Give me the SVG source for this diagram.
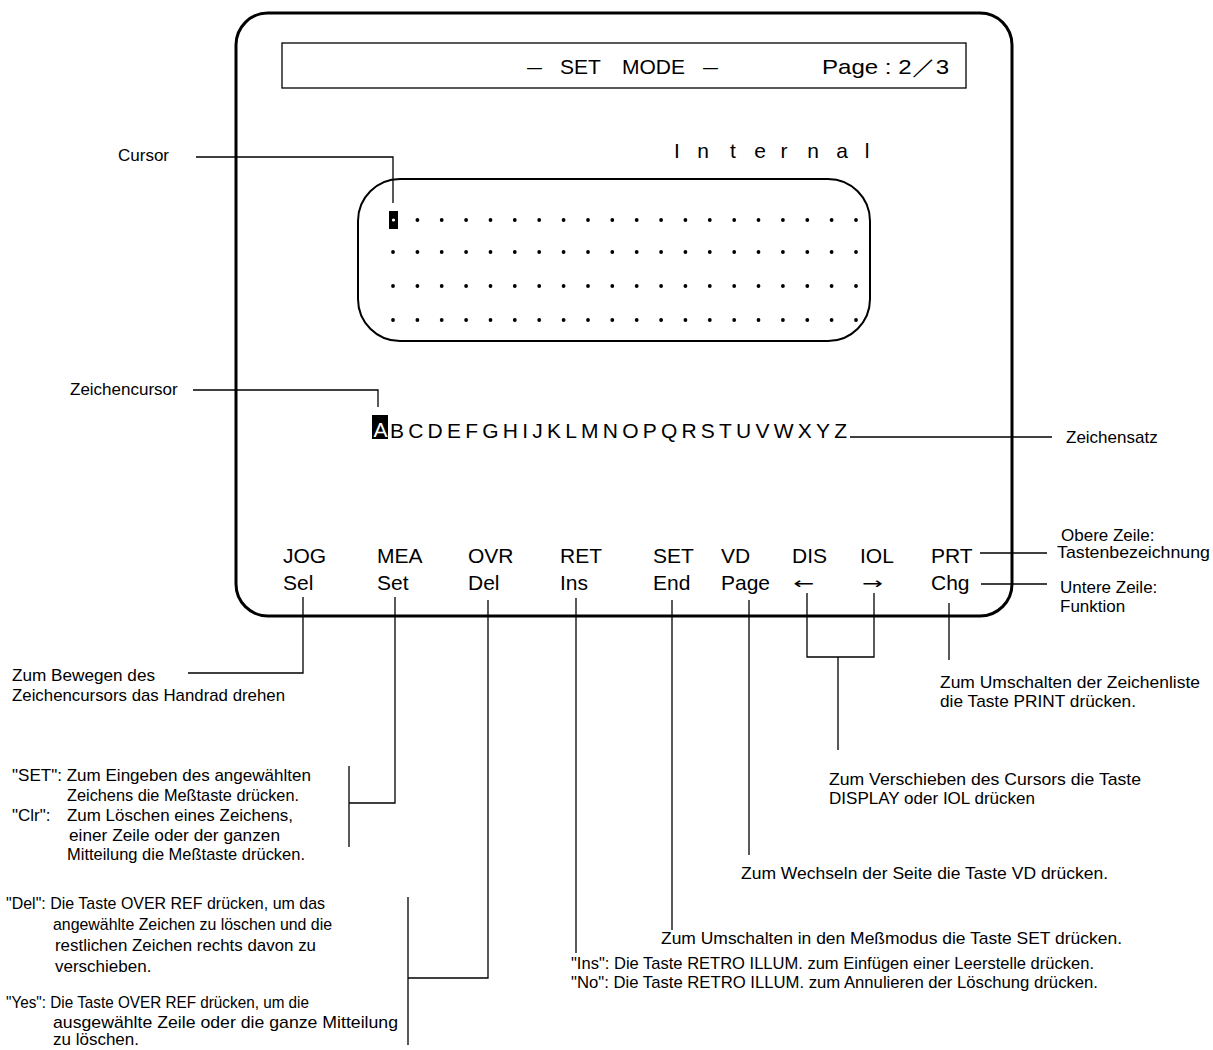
<svg xmlns="http://www.w3.org/2000/svg" width="1213" height="1050" viewBox="0 0 1213 1050">
<style>
.scr{font-family:"Liberation Sans",Arial,sans-serif;font-size:21px;fill:#000}
.ann{font-family:"Liberation Sans",Arial,sans-serif;font-size:17px;fill:#000}
.ln{stroke:#000;stroke-width:1.3;fill:none}
.dot{fill:#000}
</style>
<defs>
<circle id="d" r="1.9" class="dot"/>
<g id="row">
<use href="#d" x="393"/><use href="#d" x="417.4"/><use href="#d" x="441.7"/><use href="#d" x="466.1"/><use href="#d" x="490.5"/><use href="#d" x="514.8"/><use href="#d" x="539.2"/><use href="#d" x="563.6"/><use href="#d" x="588"/><use href="#d" x="612.3"/><use href="#d" x="636.7"/><use href="#d" x="661.1"/><use href="#d" x="685.4"/><use href="#d" x="709.8"/><use href="#d" x="734.2"/><use href="#d" x="758.5"/><use href="#d" x="782.9"/><use href="#d" x="807.3"/><use href="#d" x="831.6"/><use href="#d" x="856"/>
</g>
</defs>
<rect width="1213" height="1050" fill="#fff"/>

<g id="screen">
<rect x="236" y="13" width="776" height="603" rx="32" ry="32" fill="none" stroke="#000" stroke-width="3"/>
</g>

<g id="header">
<rect x="282" y="43" width="684" height="45" fill="none" stroke="#000" stroke-width="1.3"/>
<text class="scr" y="74"><tspan x="527" textLength="15" lengthAdjust="spacingAndGlyphs">–</tspan> <tspan x="560">SET</tspan> <tspan x="622">MODE</tspan> <tspan x="703" textLength="15" lengthAdjust="spacingAndGlyphs">–</tspan></text>
<text class="scr" x="822" y="74" textLength="127" lengthAdjust="spacingAndGlyphs">Page : 2／3</text>
</g>

<g id="internal">
<text class="scr" font-size="20" y="158" text-anchor="middle" x="677 703 733 760 784 813 842 867">Internal</text>
</g>

<g id="grid">
<rect x="358" y="179" width="512" height="162" rx="42" ry="42" fill="none" stroke="#000" stroke-width="2"/>
<use href="#row" y="252"/>
<use href="#row" y="286"/>
<use href="#row" y="320"/>
<g transform="translate(0,220)">
<use href="#d" x="417.4"/><use href="#d" x="441.7"/><use href="#d" x="466.1"/><use href="#d" x="490.5"/><use href="#d" x="514.8"/><use href="#d" x="539.2"/><use href="#d" x="563.6"/><use href="#d" x="588"/><use href="#d" x="612.3"/><use href="#d" x="636.7"/><use href="#d" x="661.1"/><use href="#d" x="685.4"/><use href="#d" x="709.8"/><use href="#d" x="734.2"/><use href="#d" x="758.5"/><use href="#d" x="782.9"/><use href="#d" x="807.3"/><use href="#d" x="831.6"/><use href="#d" x="856"/>
</g>
<g id="cursor">
<rect x="389" y="211" width="9" height="18" fill="#000"/>
<circle cx="393.5" cy="220" r="1.6" fill="#fff"/>
</g>
</g>

<g id="charset">
<rect x="372" y="415" width="16" height="24" fill="#000"/>
<text class="scr" x="373.5" y="437" style="fill:#fff">A</text>
<text class="scr" x="390" y="438" textLength="457" lengthAdjust="spacing">BCDEFGHIJKLMNOPQRSTUVWXYZ</text>
</g>

<g id="keys">
<text class="scr" x="283" y="563">JOG</text>
<text class="scr" x="377" y="563">MEA</text>
<text class="scr" x="468" y="563">OVR</text>
<text class="scr" x="560" y="563">RET</text>
<text class="scr" x="653" y="563">SET</text>
<text class="scr" x="721" y="563">VD</text>
<text class="scr" x="792" y="563">DIS</text>
<text class="scr" x="860" y="563">IOL</text>
<text class="scr" x="931" y="563">PRT</text>
<text class="scr" x="283" y="590">Sel</text>
<text class="scr" x="377" y="590">Set</text>
<text class="scr" x="468" y="590">Del</text>
<text class="scr" x="560" y="590">Ins</text>
<text class="scr" x="653" y="590">End</text>
<text class="scr" x="721" y="590">Page</text>
<text class="scr" x="793" y="589" style="font-family:'DejaVu Sans',sans-serif;font-size:16px" textLength="21" lengthAdjust="spacingAndGlyphs">←</text>
<text class="scr" x="862" y="589" style="font-family:'DejaVu Sans',sans-serif;font-size:16px" textLength="21" lengthAdjust="spacingAndGlyphs">→</text>
<text class="scr" x="931" y="590">Chg</text>
</g>

<g id="connectors">
<path class="ln" d="M196,157 H393 V203"/>
<path class="ln" d="M193,390 H378 V407"/>
<path class="ln" d="M850,437 H1052"/>
<path class="ln" d="M980,553 H1047"/>
<path class="ln" d="M981,584 H1047"/>
<path class="ln" d="M303,597 V673 H188"/>
<path class="ln" d="M395,597 V803 H349 M349,766 V847"/>
<path class="ln" d="M488,600 V978 H408 M408,897 V1045"/>
<path class="ln" d="M576,598 V953"/>
<path class="ln" d="M672,600 V930"/>
<path class="ln" d="M749,600 V855"/>
<path class="ln" d="M807,593 V657 H874 V593 M838,657 V750"/>
<path class="ln" d="M949,603 V660"/>
</g>

<g id="labels">
<text class="ann" x="118" y="161">Cursor</text>
<text class="ann" x="70" y="395">Zeichencursor</text>
<text class="ann" x="1066" y="443">Zeichensatz</text>
<text class="ann" x="1061" y="541">Obere Zeile:</text>
<text class="ann" x="1057" y="558" textLength="153" lengthAdjust="spacingAndGlyphs">Tastenbezeichnung</text>
<text class="ann" x="1060" y="593">Untere Zeile:</text>
<text class="ann" x="1060" y="612">Funktion</text>

<text class="ann" x="12" y="681" textLength="143" lengthAdjust="spacingAndGlyphs">Zum Bewegen des</text>
<text class="ann" x="12" y="701" textLength="273" lengthAdjust="spacingAndGlyphs">Zeichencursors das Handrad drehen</text>

<text class="ann" x="12" y="781" textLength="299" lengthAdjust="spacingAndGlyphs">"SET": Zum Eingeben des angewählten</text>
<text class="ann" x="67" y="801" textLength="232" lengthAdjust="spacingAndGlyphs">Zeichens die Meßtaste drücken.</text>
<text class="ann" x="12" y="821">"Clr":</text>
<text class="ann" x="67" y="821" textLength="226" lengthAdjust="spacingAndGlyphs">Zum Löschen eines Zeichens,</text>
<text class="ann" x="69" y="841" textLength="211" lengthAdjust="spacingAndGlyphs">einer Zeile oder der ganzen</text>
<text class="ann" x="67" y="860" textLength="238" lengthAdjust="spacingAndGlyphs">Mitteilung die Meßtaste drücken.</text>

<text class="ann" x="6" y="909" textLength="319" lengthAdjust="spacingAndGlyphs">"Del": Die Taste OVER REF drücken, um das</text>
<text class="ann" x="53" y="930" textLength="279" lengthAdjust="spacingAndGlyphs">angewählte Zeichen zu löschen und die</text>
<text class="ann" x="55" y="951" textLength="261" lengthAdjust="spacingAndGlyphs">restlichen Zeichen rechts davon zu</text>
<text class="ann" x="55" y="972">verschieben.</text>
<text class="ann" x="6" y="1008" textLength="303" lengthAdjust="spacingAndGlyphs">"Yes": Die Taste OVER REF drücken, um die</text>
<text class="ann" x="53" y="1028" textLength="345" lengthAdjust="spacingAndGlyphs">ausgewählte Zeile oder die ganze Mitteilung</text>
<text class="ann" x="53" y="1045">zu löschen.</text>

<text class="ann" x="940" y="688" textLength="260" lengthAdjust="spacingAndGlyphs">Zum Umschalten der Zeichenliste</text>
<text class="ann" x="940" y="707" textLength="196" lengthAdjust="spacingAndGlyphs">die Taste PRINT drücken.</text>
<text class="ann" x="829" y="785" textLength="312" lengthAdjust="spacingAndGlyphs">Zum Verschieben des Cursors die Taste</text>
<text class="ann" x="829" y="804" textLength="206" lengthAdjust="spacingAndGlyphs">DISPLAY oder IOL drücken</text>
<text class="ann" x="741" y="879" textLength="367" lengthAdjust="spacingAndGlyphs">Zum Wechseln der Seite die Taste VD drücken.</text>
<text class="ann" x="661" y="944" textLength="461" lengthAdjust="spacingAndGlyphs">Zum Umschalten in den Meßmodus die Taste SET drücken.</text>
<text class="ann" x="571" y="969" textLength="523" lengthAdjust="spacingAndGlyphs">"Ins": Die Taste RETRO ILLUM. zum Einfügen einer Leerstelle drücken.</text>
<text class="ann" x="571" y="988" textLength="527" lengthAdjust="spacingAndGlyphs">"No": Die Taste RETRO ILLUM. zum Annulieren der Löschung drücken.</text>
</g>
</svg>
